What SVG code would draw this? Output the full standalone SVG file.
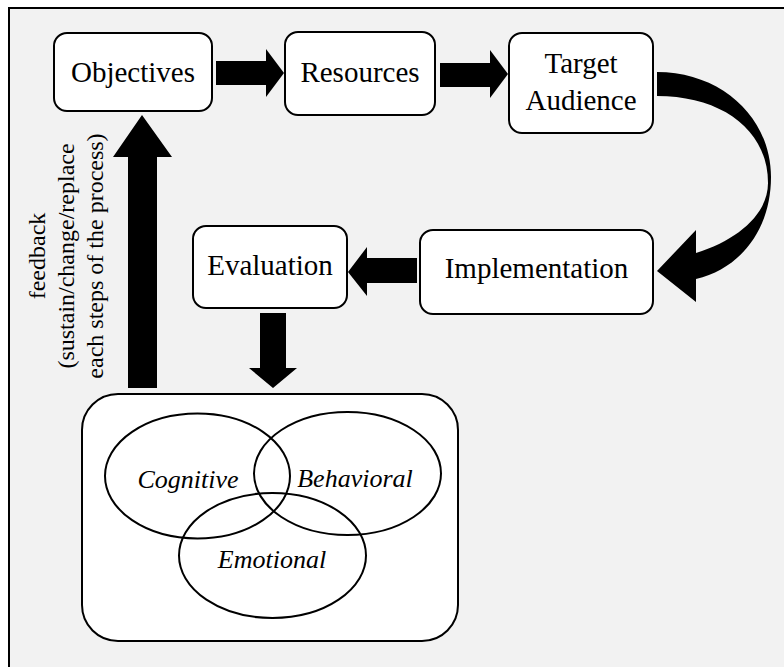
<svg xmlns="http://www.w3.org/2000/svg" width="784" height="667" viewBox="0 0 784 667">
<style>
.box{fill:#fff;stroke:#000;stroke-width:2}
.t{font-family:"Liberation Serif","Times New Roman",serif;font-size:29px;fill:#000;text-anchor:middle}
.it{font-family:"Liberation Serif","Times New Roman",serif;font-size:26px;font-style:italic;fill:#000;text-anchor:middle}
.fb{font-family:"Liberation Serif","Times New Roman",serif;font-size:24px;fill:#000;text-anchor:middle}
.arr{fill:#000;stroke:none}
.ell{fill:none;stroke:#000;stroke-width:2}
</style>
<rect x="0" y="0" width="784" height="667" fill="#fff"/>
<rect x="9" y="8" width="800" height="700" fill="#f2f2f2" stroke="#000" stroke-width="2"/>
<g id="connectors">
<polygon class="arr" points="216,61 266,61 266,49 284,73 266,97 266,85 216,85"/>
<polygon class="arr" points="440,63 490,63 490,50 508,74 490,98 490,87 440,87"/>
<path class="arr" d="M657,72 C722,72 771,118 771,177 C771,228 742,268 696,279 L696,302 L657,271 L696,230 L696,253 C738,240 768,214 768,183 C768,130 722,96 657,96 Z"/>
<polygon class="arr" points="417,258 367,258 367,247 348,272 367,296 367,283 417,283"/>
<polygon class="arr" points="260,313 286,313 286,368 297,368 273,388 249,368 260,368"/>
<polygon class="arr" points="128,388 157,388 157,157 172,157 142,115 113,157 128,157"/>
</g>
<g id="feedback-label" transform="translate(0,256) rotate(-90)">
<text class="fb" x="0" y="45">feedback</text>
<text class="fb" x="0" y="74">(sustain/change/replace</text>
<text class="fb" x="0" y="102.5">each steps of the process)</text>
</g>
<g id="objectives">
<rect class="box" x="54" y="33" width="158" height="78" rx="13"/>
<text class="t" x="133" y="82">Objectives</text>
</g>
<g id="resources">
<rect class="box" x="285" y="32" width="150" height="83" rx="13"/>
<text class="t" x="360" y="82">Resources</text>
</g>
<g id="target-audience">
<rect class="box" x="509" y="33" width="144" height="100" rx="13"/>
<text class="t" x="581" y="73">Target</text>
<text class="t" x="581" y="110">Audience</text>
</g>
<g id="implementation">
<rect class="box" x="420" y="230" width="233" height="84" rx="13"/>
<text class="t" x="536.5" y="278">Implementation</text>
</g>
<g id="evaluation">
<rect class="box" x="193" y="226" width="154" height="82" rx="13"/>
<text class="t" x="270" y="275">Evaluation</text>
</g>
<g id="outcomes">
<rect class="box" x="82" y="394" width="376" height="247" rx="36"/>
<ellipse class="ell" cx="197.5" cy="476" rx="92.5" ry="62.5"/>
<ellipse class="ell" cx="347.5" cy="473.5" rx="93.5" ry="61.5"/>
<ellipse class="ell" cx="272.5" cy="555.5" rx="93.5" ry="62.5"/>
<text class="it" x="188" y="488">Cognitive</text>
<text class="it" x="355" y="487">Behavioral</text>
<text class="it" x="272" y="568">Emotional</text>
</g>
</svg>
